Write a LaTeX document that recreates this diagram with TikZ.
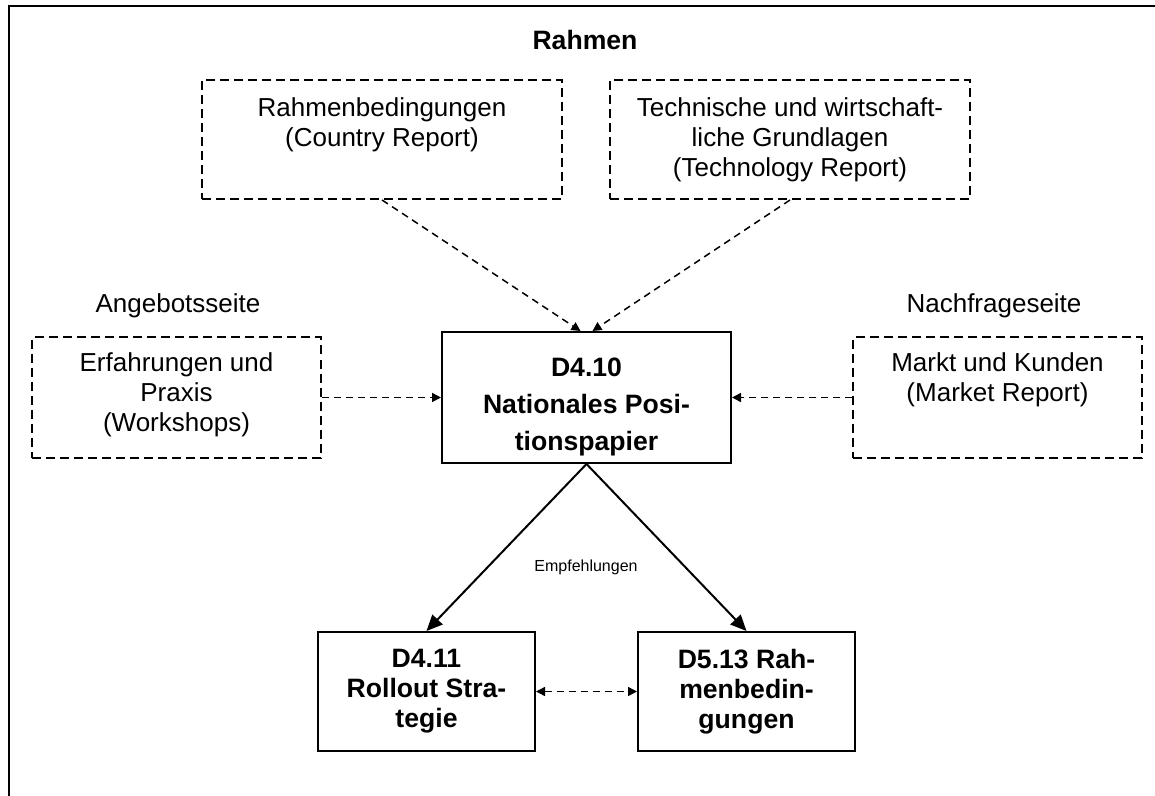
\documentclass[tikz,border=0pt]{standalone}
\usepackage{fontspec}
\setmainfont{Liberation Sans}
\usetikzlibrary{positioning, arrows.meta}

\begin{document}
\begin{tikzpicture}[x=0.5pt, y=-0.5pt,
    inbox/.style={draw, line width=1pt, dash pattern=on 4.5pt off 2.5pt, minimum width=180pt, minimum height=59.5pt},
    outbox/.style={draw, line width=1pt, minimum width=108.5pt, minimum height=59.5pt},
    boxtext/.style={anchor=north, inner sep=0pt, align=center, font=\fontsize{13}{15}\selectfont},
    boldtext/.style={anchor=north, inner sep=0pt, align=center, font=\fontsize{13.3}{15}\selectfont\bfseries},
    feed/.style={line width=0.75pt, dash pattern=on 3.5pt off 2.5pt, -{Triangle[length=4.5pt, width=4.5pt]}},
    feedboth/.style={line width=0.75pt, dash pattern=on 3.5pt off 2.5pt, {Triangle[length=4.5pt, width=4.5pt]}-{Triangle[length=4.5pt, width=4.5pt]}},
    lead/.style={line width=1pt, -{Triangle[length=8pt, width=7pt]}}]
    \useasboundingbox (0,0) rectangle (1155,796);
    % Rahmen
    \draw [line width=1.2pt] (9,810) |- (1170,6);
    \node (title) [anchor=base, font=\fontsize{13.3}{15}\selectfont\bfseries] at (585,50) {Rahmen};
    \node (rb) [inbox] at (382,139.5) {};
    \node (tg) [inbox] at (790,139.5) {};
    \node (rbt) [boxtext, below=9pt of rb.north] {Rahmenbedingungen\\(Country Report)};
    \node (tgt) [boxtext, below=9pt of tg.north] {Technische und wirtschaft-\\liche Grundlagen\\(Technology Report)};
    % Positionspapier
    \node (pap) [draw, line width=1pt, minimum width=144.5pt, minimum height=65.5pt] at (586.5,397.5) {};
    \node (papt) [boldtext, below=13.5pt of pap.north, font=\fontsize{13.3}{18.5}\selectfont\bfseries] {D4.10\\Nationales Posi-\\tionspapier};
    % Angebots- und Nachfrageseite
    \node (ang) [inbox, minimum width=144.5pt, minimum height=60pt, left=59.5pt of pap] {};
    \node (nach) [inbox, minimum width=144.5pt, minimum height=60pt, right=60pt of pap] {};
    \node (angl) [anchor=base, font=\fontsize{13}{15}\selectfont] at (178,313) {Angebotsseite};
    \node (nachl) [anchor=base, font=\fontsize{13}{15}\selectfont] at (994,313) {Nachfrageseite};
    \node (angt) [boxtext, below=8pt of ang.north] {Erfahrungen und\\Praxis\\(Workshops)};
    \node (nacht) [boxtext, below=8pt of nach.north] {Markt und Kunden\\(Market Report)};
    % Empfehlungen
    \node (ros) [outbox] at (426.5,691.5) {};
    \node (rbd) [outbox] at (746.5,691.5) {};
    \node (rost) [boldtext, below=8.7pt of ros.north] {D4.11\\Rollout Stra-\\tegie};
    \node (rbdt) [boldtext, below=8.7pt of rbd.north] {D5.13 Rah-\\menbedin-\\gungen};
    \node (emp) [anchor=base, font=\fontsize{8}{9.6}\selectfont] at (586,571) {Empfehlungen};
    % Verbindungen
    \draw [feed] (rb.south) -- ([xshift=-3pt]pap.north);
    \draw [feed] (tg.south) -- ([xshift=3pt]pap.north);
    \draw [feed] (ang.east) -- (pap.west);
    \draw [feed] (nach.west) -- (pap.east);
    \draw [lead] (pap.south) -- (ros.north);
    \draw [lead] (pap.south) -- (rbd.north);
    \draw [feedboth] (ros.east) -- (rbd.west);
\end{tikzpicture}
\end{document}
